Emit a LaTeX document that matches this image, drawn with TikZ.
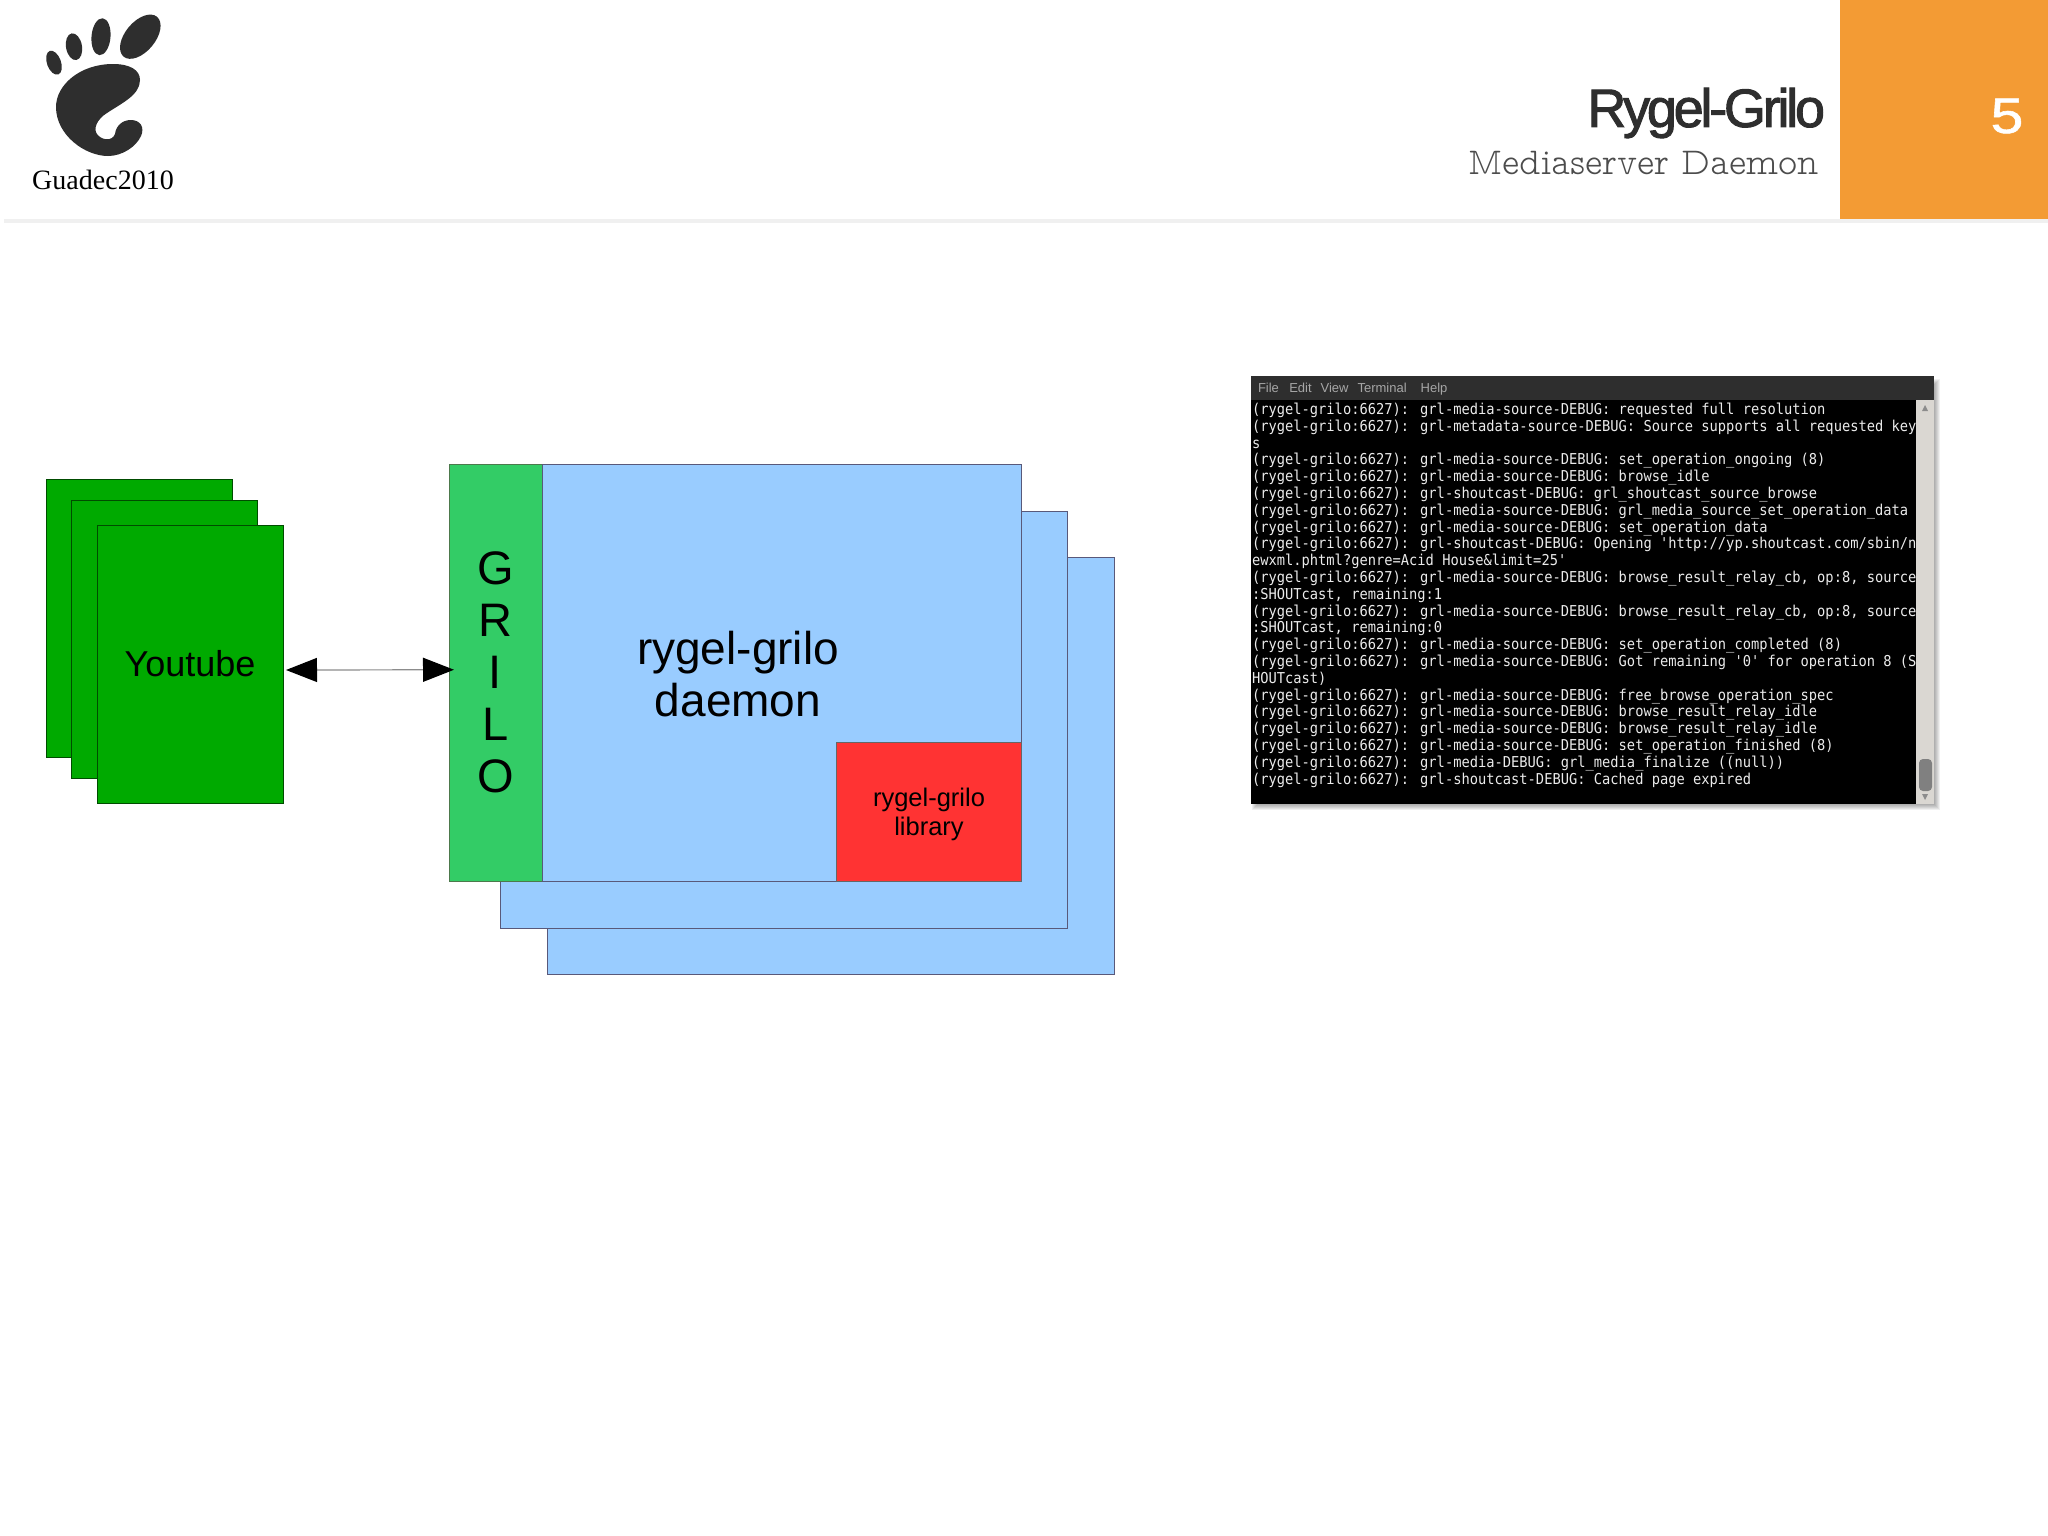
\documentclass[tikz,border=0pt]{standalone}
\usepackage{fontspec}
\usepackage{xcolor}
\usetikzlibrary{positioning,arrows.meta}
\setmainfont{Liberation Sans}
\newfontfamily\titlefont[LetterSpace=-6,FakeBold=1.8]{Liberation Sans}
\newfontfamily\numberfont[FakeBold=1.2,FakeStretch=1.18]{Liberation Sans}
\newfontfamily\logofont{Liberation Serif}
\newfontfamily\subtitlefont[FakeStretch=0.963]{Latin Modern Mono Prop Light}
\newfontfamily\termfont[FakeStretch=0.916]{DejaVu Sans Mono}
\definecolor{footgray}{HTML}{2E2E2E}
\definecolor{slideorange}{HTML}{F39B34}
\definecolor{rulegray}{HTML}{F0F0F0}
\definecolor{sourcegreen}{HTML}{00AA00}
\definecolor{grilogreen}{HTML}{33CC66}
\definecolor{daemonblue}{HTML}{99CCFF}
\definecolor{libraryred}{HTML}{FF3333}
\definecolor{scrollgray}{HTML}{DAD7D2}

\begin{document}
\begin{tikzpicture}[x=1pt,y=-1pt,>={Triangle[length=31pt,width=24pt,color=black]},
    box node/.style={draw,line width=1pt,inner sep=0pt,outer sep=0pt,anchor=north west,align=center},
    source node/.style={box node,fill=sourcegreen,draw=green!30!black,minimum width=186pt,minimum height=278pt},
    daemon node/.style={box node,fill=daemonblue,draw=blue!20!black!65,minimum width=567pt,minimum height=417.5pt},
    flat node/.style={inner sep=0pt,outer sep=0pt}]
    \useasboundingbox (0,0) rectangle (2048,1535);
    \fill[white] (0,0) rectangle (2048,1535);

    % header
    \fill[rulegray] (4,219) rectangle (2048,223);
    \node[flat node,fill=slideorange,anchor=north west,minimum width=208pt,minimum height=219pt] (corner) at (1840,0) {};
    \node[flat node,text=white,font=\fontsize{50}{50}\numberfont] (number) at (2007,116) {5};
    \node[flat node,anchor=east,text=footgray,font=\fontsize{54}{54}\titlefont] (title) at (1825,113) {Rygel-Grilo};
    \node[flat node,anchor=east,text=black!70,font=\fontsize{38}{38}\subtitlefont] (subtitle) at (1819,163) {Mediaserver Daemon};
    \node[flat node,font=\fontsize{28}{28}\logofont] (conference) at (103,180) {Guadec2010};

    % foot
    \fill[footgray,shift={(140.3,36.7)},rotate=50] (0,0) ellipse [x radius=26,y radius=15];
    \fill[footgray,shift={(101,36.7)},rotate=85] (0,0) ellipse [x radius=18.5,y radius=9.5];
    \fill[footgray,shift={(74,46.7)},rotate=100] (0,0) ellipse [x radius=13.5,y radius=8];
    \fill[footgray,shift={(54,62.7)},rotate=110] (0,0) ellipse [x radius=12.5,y radius=7];
    \fill[footgray] (113,64) .. controls (130,64) and (140,70) .. (140,80)
        .. controls (140,95) and (122,103) .. (107,113)
        .. controls (97,119) and (93,129) .. (97,134)
        .. controls (101,140) and (112,142) .. (115,134)
        .. controls (116,126) and (122,120) .. (131,120)
        .. controls (140,120) and (145,127) .. (141,136)
        .. controls (136,147) and (122,156) .. (108,156)
        .. controls (85,156) and (56,135) .. (56,107)
        .. controls (56,85) and (80,64) .. (113,64) -- cycle;

    % sources
    \node[source node] (back source) at (46,479) {};
    \node[source node] (middle source) at (71,500) {};
    \node[source node,font=\fontsize{36}{40}\selectfont] (youtube) at (97,525) {Youtube};

    % daemons
    \node[daemon node] (back daemon) at (547,557) {};
    \node[daemon node] (middle daemon) at (500,511) {};
    \node[box node,fill=grilogreen,draw=green!25!black!70,minimum width=93pt,minimum height=417.5pt,
        font=\fontsize{47}{52}\selectfont] (grilo) at (449,464) {G\\R\\I\\L\\O};
    \node[daemon node,minimum width=479pt,right=0pt of grilo.north east,anchor=north west] (daemon) {};
    \node[flat node,align=center,font=\fontsize{46}{52}\selectfont] (daemon label) at (738,674) {rygel-grilo\\daemon};
    \node[box node,fill=libraryred,draw=black!60,anchor=south east,minimum width=185pt,minimum height=139pt] (library) at (daemon.south east) {};
    \node[flat node,align=center,font=\fontsize{25.5}{29}\selectfont] (library label) at (929,814) {rygel-grilo\\library};

    \path ([yshift=-6pt,xshift=3pt]youtube.east) edge [<->,draw=black!45,line width=1.2pt,shorten >=-5pt] ([yshift=3pt]grilo.west);

    % terminal
    \foreach \i in {1,...,6}
        \fill[black,opacity=0.06] (1251+\i,378+\i) rectangle (1941-\i,811-\i);
    \node[flat node,fill=black,anchor=north west,minimum width=683pt,minimum height=428pt] (terminal) at (1251,376) {};
    \node[flat node,fill=black!82,anchor=north west,minimum width=683pt,minimum height=24pt] (menubar) at (terminal.north west) {};
    \node[flat node,anchor=west,text=black!35,font=\fontsize{13}{13}\selectfont] (menu) at ([xshift=7pt,yshift=-1pt]menubar.west)
        {File\hspace{10.3pt}Edit\hspace{9pt}View\hspace{9pt}Terminal\hspace{14pt}Help};
    \node[flat node,fill=scrollgray,anchor=north east,minimum width=18pt,minimum height=404pt] (scrollbar) at (menubar.south east) {};
    \node[flat node,fill=black!50,rounded corners=4pt,minimum width=13pt,minimum height=32pt] (thumb) at (1925.5,775) {};
    \fill[black!45] (1925,405) -- (1928,411) -- (1922,411) -- cycle;
    \fill[black!45] (1925,800) -- (1928,794) -- (1922,794) -- cycle;
    \node[flat node,anchor=north west,text=black!8,align=left,font=\fontsize{15}{16.8}\termfont] (log) at (1252,403) {%
(rygel-grilo:6627): grl-media-source-DEBUG: requested full resolution\\
(rygel-grilo:6627): grl-metadata-source-DEBUG: Source supports all requested key\\
s\\
(rygel-grilo:6627): grl-media-source-DEBUG: set\_operation\_ongoing (8)\\
(rygel-grilo:6627): grl-media-source-DEBUG: browse\_idle\\
(rygel-grilo:6627): grl-shoutcast-DEBUG: grl\_shoutcast\_source\_browse\\
(rygel-grilo:6627): grl-media-source-DEBUG: grl\_media\_source\_set\_operation\_data\\
(rygel-grilo:6627): grl-media-source-DEBUG: set\_operation\_data\\
(rygel-grilo:6627): grl-shoutcast-DEBUG: Opening 'http://yp.shoutcast.com/sbin/n\\
ewxml.phtml?genre=Acid House\&limit=25'\\
(rygel-grilo:6627): grl-media-source-DEBUG: browse\_result\_relay\_cb, op:8, source\\
:SHOUTcast, remaining:1\\
(rygel-grilo:6627): grl-media-source-DEBUG: browse\_result\_relay\_cb, op:8, source\\
:SHOUTcast, remaining:0\\
(rygel-grilo:6627): grl-media-source-DEBUG: set\_operation\_completed (8)\\
(rygel-grilo:6627): grl-media-source-DEBUG: Got remaining '0' for operation 8 (S\\
HOUTcast)\\
(rygel-grilo:6627): grl-media-source-DEBUG: free\_browse\_operation\_spec\\
(rygel-grilo:6627): grl-media-source-DEBUG: browse\_result\_relay\_idle\\
(rygel-grilo:6627): grl-media-source-DEBUG: browse\_result\_relay\_idle\\
(rygel-grilo:6627): grl-media-source-DEBUG: set\_operation\_finished (8)\\
(rygel-grilo:6627): grl-media-DEBUG: grl\_media\_finalize ((null))\\
(rygel-grilo:6627): grl-shoutcast-DEBUG: Cached page expired};
\end{tikzpicture}
\end{document}
